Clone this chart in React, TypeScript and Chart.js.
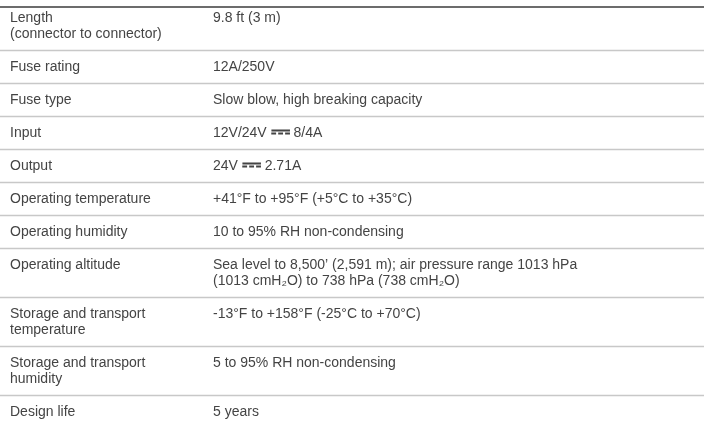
import React, { useEffect, useRef } from "react";
import { Chart, registerables } from "chart.js";

Chart.register(...registerables);

const parameters: string[][] = [
  ["Length", "(connector to connector)"],
  ["Fuse rating"],
  ["Fuse type"],
  ["Input"],
  ["Output"],
  ["Operating temperature"],
  ["Operating humidity"],
  ["Operating altitude"],
  ["Storage and transport", "temperature"],
  ["Storage and transport", "humidity"],
  ["Design life"],
];

const specifications: string[][] = [
  ["9.8 ft (3 m)"],
  ["12A/250V"],
  ["Slow blow, high breaking capacity"],
  ["12V/24V \u2393 8/4A"],
  ["24V \u2393 2.71A"],
  ["+41°F to +95°F (+5°C to +35°C)"],
  ["10 to 95% RH non-condensing"],
  ["Sea level to 8,500\u2019 (2,591 m); air pressure range 1013 hPa", "(1013 cmH\u2082O) to 738 hPa (738 cmH\u2082O)"],
  ["-13°F to +158°F (-25°C to +70°C)"],
  ["5 to 95% RH non-condensing"],
  ["5 years"],
];

const W = 704;
const H = 447;
const LINE_H = 16;
const ROW_PAD = 17;
const TABLE_TOP = 1.5;
const TOP_RULE = 7;
const COL1_X = 10;
const COL2_X = 213;
const FONT = '14px "Liberation Sans", Arial, "DejaVu Sans", sans-serif';
const SYMBOL_FONT = 'bold 20px "DejaVu Sans", sans-serif';
const SYM_W = 19;
const SYM_H = 6.5;
const TEXT_COLOR = "#444444";
const RULE_COLOR = "#c8c8c8";
const TOP_RULE_COLOR = "#6c6c6c";

function drawRich(ctx: CanvasRenderingContext2D, text: string, x: number, y: number) {
  const parts = text.split("\u2393");
  let cx = x;
  parts.forEach((p, i) => {
    if (i > 0) {
      ctx.save();
      ctx.font = SYMBOL_FONT;
      ctx.textBaseline = "alphabetic";
      const m = ctx.measureText("\u2393");
      const inkW = m.actualBoundingBoxLeft + m.actualBoundingBoxRight;
      const inkH = m.actualBoundingBoxAscent + m.actualBoundingBoxDescent;
      ctx.translate(cx, y - 1.5 - SYM_H / 2);
      ctx.scale(SYM_W / inkW, SYM_H / inkH);
      ctx.fillText("\u2393", m.actualBoundingBoxLeft, m.actualBoundingBoxAscent);
      ctx.restore();
      cx += SYM_W;
    }
    ctx.font = FONT;
    ctx.fillText(p, cx, y);
    cx += ctx.measureText(p).width;
  });
}

const tablePlugin = {
  id: "specTable",
  afterDraw(chart: any) {
    const { ctx } = chart;
    const xs = chart.scales.x;
    const ys = chart.scales.y;
    ctx.save();
    ctx.strokeStyle = TOP_RULE_COLOR;
    ctx.lineWidth = 2;
    ctx.beginPath();
    ctx.moveTo(xs.getPixelForValue(0), ys.getPixelForValue(TOP_RULE));
    ctx.lineTo(xs.getPixelForValue(W), ys.getPixelForValue(TOP_RULE));
    ctx.stroke();

    ctx.fillStyle = TEXT_COLOR;
    ctx.textBaseline = "middle";
    ctx.textAlign = "left";
    let top = TABLE_TOP;
    for (let i = 0; i < parameters.length; i++) {
      const n = Math.max(parameters[i].length, specifications[i].length);
      const h = ROW_PAD + LINE_H * n;
      parameters[i].forEach((t, k) => {
        drawRich(ctx, t, xs.getPixelForValue(COL1_X), ys.getPixelForValue(top + ROW_PAD / 2 + LINE_H / 2 + k * LINE_H));
      });
      specifications[i].forEach((t, k) => {
        drawRich(ctx, t, xs.getPixelForValue(COL2_X), ys.getPixelForValue(top + ROW_PAD / 2 + LINE_H / 2 + k * LINE_H));
      });
      top += h;
      if (i < parameters.length - 1) {
        ctx.strokeStyle = RULE_COLOR;
        ctx.lineWidth = 1.5;
        ctx.beginPath();
        ctx.moveTo(xs.getPixelForValue(0), ys.getPixelForValue(top));
        ctx.lineTo(xs.getPixelForValue(W), ys.getPixelForValue(top));
        ctx.stroke();
      }
    }
    ctx.restore();
  },
};

export default function App() {
  const ref = useRef<HTMLCanvasElement | null>(null);
  useEffect(() => {
    document.body.style.margin = "0";
    const canvas = ref.current!;
    const chart = new Chart(canvas, {
      type: "scatter",
      data: { datasets: [{ data: [], pointRadius: 0 }] },
      options: {
        animation: false,
        responsive: false,
        maintainAspectRatio: false,
        layout: { padding: 0 },
        plugins: { legend: { display: false }, tooltip: { enabled: false } },
        scales: {
          x: { type: "linear", min: 0, max: W, display: false },
          y: { type: "linear", min: 0, max: H, reverse: true, display: false },
        },
      },
      plugins: [tablePlugin],
    });
    return () => chart.destroy();
  }, []);
  return (
    <div style={{ width: W, height: H, background: "#fff" }}>
      <canvas ref={ref} width={W} height={H} style={{ width: W, height: H, display: "block" }} />
    </div>
  );
}
